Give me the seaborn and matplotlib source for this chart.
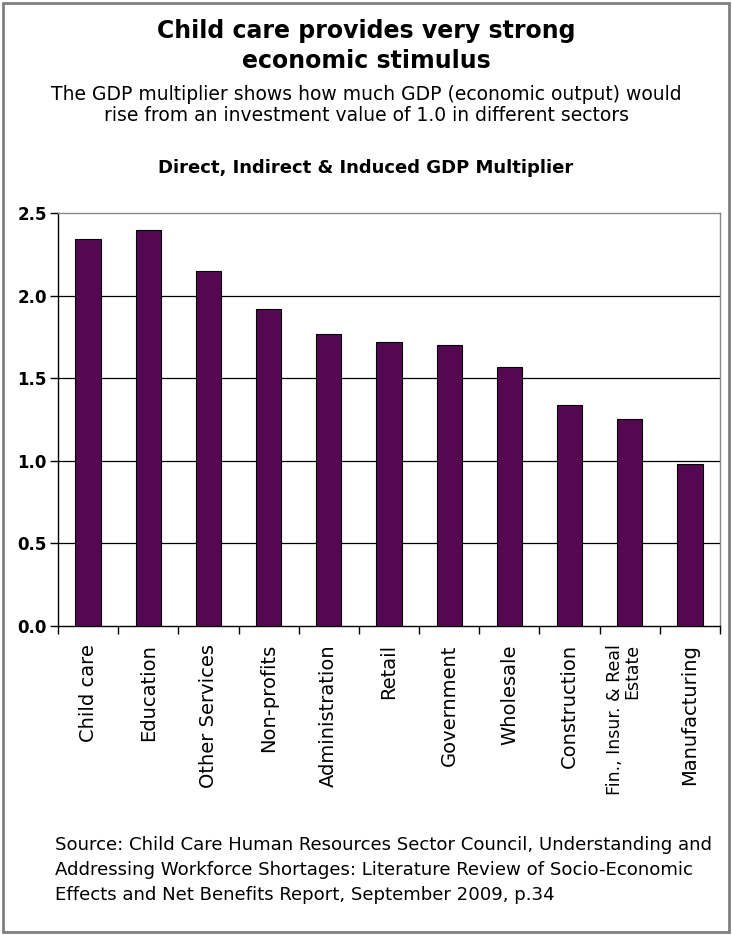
import numpy as np
import pandas as pd
import matplotlib
matplotlib.use("Agg")
import matplotlib.pyplot as plt
import seaborn as sns
from matplotlib import font_manager

# data
sectors = ['Child care', 'Education', 'Other Services', 'Non-profits',
           'Administration', 'Retail', 'Government', 'Wholesale',
           'Construction', 'Fin., Insur. & Real\nEstate', 'Manufacturing']
multiplier = [2.34, 2.40, 2.15, 1.92, 1.77, 1.72, 1.70, 1.57, 1.34, 1.25, 0.98]

df = pd.DataFrame({'sector': sectors, 'gdp': multiplier})

sns.set_style('white')
plt.rcParams['font.family'] = ['DejaVu Sans']
plt.rcParams['text.color'] = 'black'

names = {f.name for f in font_manager.fontManager.ttflist}
narrow = [n for n in ['Liberation Sans Narrow', 'DejaVu Sans Condensed'] if n in names]

fig = plt.figure(figsize=(7.32, 9.35), dpi=100)
ax = fig.add_axes([58 / 732, 1 - 626 / 935, 662 / 732, 413 / 935])

sns.barplot(data=df, x='sector', y='gdp', color='#550852', saturation=1,
            width=0.42, edgecolor='black', linewidth=0.8, ax=ax, zorder=3)

ax.set_xlim(-0.5, len(sectors) - 0.5)
ax.set_ylim(0, 2.5)
yt = np.arange(0, 2.51, 0.5)
ax.set_yticks(yt)
ax.set_yticklabels([f'{v:.1f}' for v in yt], family=narrow + ['DejaVu Sans'],
                   fontweight='bold', fontsize=12, color='black')
for v in np.arange(0.5, 2.01, 0.5):
    ax.axhline(v, color='black', linewidth=0.9, zorder=1)

# category boundary ticks
ax.set_xticks(np.arange(-0.5, len(sectors), 1))
ax.set_xticklabels([])
ax.tick_params(axis='x', bottom=True, direction='out', length=6, width=1, color='black')
ax.tick_params(axis='y', left=True, direction='out', length=6, width=1, color='black', pad=2)
for i, name in enumerate(sectors):
    fs = 12.5 if '\n' in name else 14
    ax.text(i - (0.1 if '\n' in name else 0), -0.11, name, rotation=90,
            ha='center', va='top', fontsize=fs, color='black',
            linespacing=1.0, multialignment='right')

ax.set_xlabel('')
ax.set_ylabel('')
for side in ['left', 'bottom']:
    ax.spines[side].set_color('black')
    ax.spines[side].set_linewidth(1)
for side in ['top', 'right']:
    ax.spines[side].set_color('#888888')
    ax.spines[side].set_linewidth(1)

fig.text(0.5, 1 - 46 / 935, 'Child care provides very strong\neconomic stimulus',
         ha='center', va='center', fontsize=17, fontweight='bold', linespacing=1.35)
fig.text(0.5, 1 - 105 / 935,
         'The GDP multiplier shows how much GDP (economic output) would\n'
         'rise from an investment value of 1.0 in different sectors',
         ha='center', va='center', fontsize=13.5, linespacing=1.1)
fig.text(0.5, 1 - 168 / 935, 'Direct, Indirect & Induced GDP Multiplier',
         ha='center', va='center', fontsize=13, fontweight='bold')
fig.text(55 / 732, 1 - 870 / 935,
         'Source: Child Care Human Resources Sector Council, Understanding and\n'
         'Addressing Workforce Shortages: Literature Review of Socio-Economic\n'
         'Effects and Net Benefits Report, September 2009, p.34',
         ha='left', va='center', fontsize=13.1, linespacing=1.5)

fig.patches.append(plt.Rectangle((3 / 732, 3 / 935), 726 / 732, 929 / 935,
                                 transform=fig.transFigure, fill=False,
                                 edgecolor='#808080', linewidth=2))

fig.savefig('out.png', dpi=100, facecolor='white')
